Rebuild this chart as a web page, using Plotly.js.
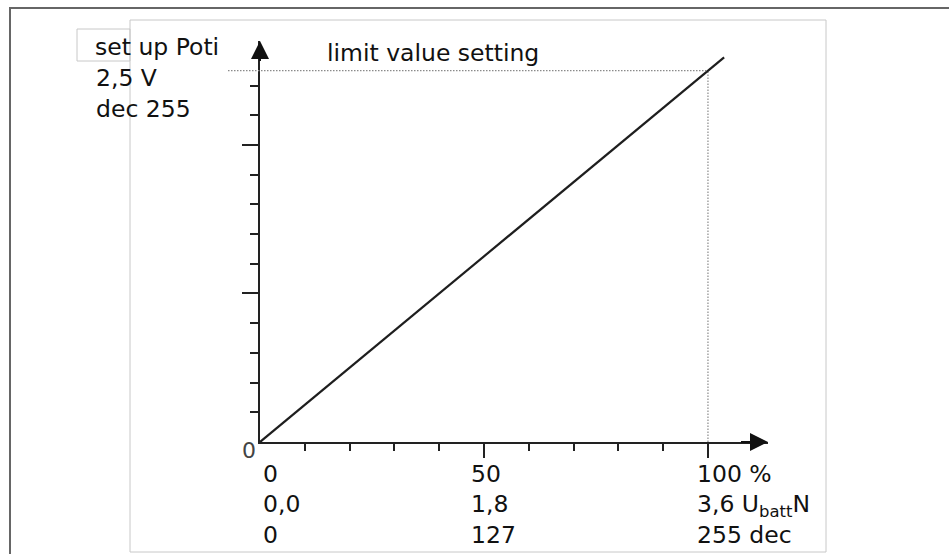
<!DOCTYPE html>
<html>
<head>
<meta charset="utf-8">
<script src="https://cdn.plot.ly/plotly-3.0.1.min.js"></script>
<style>html,body{margin:0;padding:0;background:#fff;}</style>
</head>
<body>
<div id="chart" style="width:949px;height:554px;"></div>
<script>
// ---------- data ----------
const lineX = [0, 103.6];          // limit value setting, %
const lineY = [0, 2.59];           // set up Poti voltage, V
const refX = 100;                  // 100 % point
const refY = 2.5;                  // 2,5 V
const tickPos = [0, 50, 100];
const pctLabels  = ['0', '50', '100 %'];
const voltLabels = ['0,0', '1,8', '3,6 U<sub>batt</sub>N'];
const decLabels  = ['0', '127', '255 dec'];
const yTitleLines = ['set up Poti', '2,5 V', 'dec 255'];
const chartTitle = 'limit value setting';
const originLabel = '0';
const xMajor = [50, 100];
const xMinor = [10, 20, 30, 40, 60, 70, 80, 90];
const yMajor = [1, 2];
const yMinor = [0.2, 0.4, 0.6, 0.8, 1.2, 1.4, 1.6, 1.8, 2.2, 2.4];

// ---------- geometry / style ----------
const W = 949, H = 554, L = 260, R = 181, T = 41, B = 112;
const xRange = [0, 113.4], yRange = [0, 2.7];
const pw = W - L - R, ph = H - T - B;
const px2x = px => (px - L) / pw;
const py2y = py => (H - B - py) / ph;
const FS = 23.5, FAM = 'DejaVu Sans', TXT = '#111';
const ASC = 0.928 * FS + 1;          // box top -> baseline

function label(text, left, baseline) {
  return {
    xref: 'paper', yref: 'paper', x: px2x(left), y: py2y(baseline - ASC),
    xanchor: 'left', yanchor: 'top', align: 'left', showarrow: false, text: text,
    font: {family: FAM, size: FS, color: TXT}
  };
}

const annotations = [];
// y-axis description
const yTitleLeft = [92.5, 93.5, 93.5];
const yTitleBase = [54.3, 84.5, 115.5];
yTitleLines.forEach((t, i) => annotations.push(label(t, yTitleLeft[i], yTitleBase[i])));
// title
annotations.push(label(chartTitle, 324.8, 60));
// column labels under x axis
const colShift = [0.5, -15, -13];
const rowBase = [480.5, 511, 541.5];
[pctLabels, voltLabels, decLabels].forEach((row, r) => {
  row.forEach((t, i) => {
    annotations.push({
      xref: 'x', yref: 'paper', x: tickPos[i], xshift: colShift[i],
      y: py2y(rowBase[r] - ASC), xanchor: 'left', yanchor: 'top', align: 'left',
      showarrow: false, text: t, font: {family: FAM, size: FS, color: TXT}
    });
  });
});
// origin label
annotations.push({
  xref: 'paper', yref: 'paper', x: px2x(249), y: py2y(450), xanchor: 'center', yanchor: 'middle',
  showarrow: false, text: originLabel, font: {family: FAM, size: 22, color: '#444'}
});
// axis arrowheads
annotations.push({xref: 'x', yref: 'y', x: xRange[1], y: 0, ax: -30, ay: 0, text: ' ',
  showarrow: true, arrowhead: 2, arrowsize: 1.8, arrowwidth: 2, arrowcolor: '#111'});
annotations.push({xref: 'x', yref: 'y', x: 0, y: yRange[1], ax: 0, ay: 30, text: ' ',
  showarrow: true, arrowhead: 2, arrowsize: 1.8, arrowwidth: 2, arrowcolor: '#111'});

const DOT = {color: '#8a8a8a', width: 1.2, dash: '1.5px,1.5px'};
const shapes = [
  // outer frame
  {type: 'rect', xref: 'paper', yref: 'paper', x0: px2x(10), x1: px2x(1000), y0: py2y(8), y1: py2y(620),
   line: {color: '#666', width: 2}},
  // inner frame
  {type: 'rect', xref: 'paper', yref: 'paper', x0: px2x(130), x1: px2x(826), y0: py2y(20), y1: py2y(552),
   line: {color: '#c8c8c8', width: 1}},
  // small label box
  {type: 'rect', xref: 'paper', yref: 'paper', x0: px2x(77), x1: px2x(130), y0: py2y(29), y1: py2y(61),
   line: {color: '#c8c8c8', width: 1}},
  // horizontal dotted reference line at 2,5 V
  {type: 'line', xref: 'paper', yref: 'y', x0: px2x(228),
   x1: (refX - xRange[0]) / (xRange[1] - xRange[0]), y0: refY, y1: refY, line: DOT}
];

const traces = [
  {x: [refX, refX], y: [0, refY], mode: 'lines', hoverinfo: 'skip', line: DOT},
  {x: lineX, y: lineY, mode: 'lines', hoverinfo: 'skip', line: {color: '#1e1e1e', width: 2.2}}
];

const axisCommon = {
  showline: true, linecolor: '#222', linewidth: 2, showgrid: false, zeroline: false,
  showticklabels: false, ticks: 'outside', tickmode: 'array', tickwidth: 2, tickcolor: '#222',
  fixedrange: true
};

const layout = {
  width: W, height: H, margin: {l: L, r: R, t: T, b: B, pad: 0},
  paper_bgcolor: '#fff', plot_bgcolor: '#fff', showlegend: false,
  xaxis: Object.assign({}, axisCommon, {range: xRange, tickvals: xMajor, ticklen: 14,
    minor: {tickmode: 'array', tickvals: xMinor, ticks: 'outside', ticklen: 7, tickwidth: 2, tickcolor: '#222'}}),
  yaxis: Object.assign({}, axisCommon, {range: yRange, tickvals: yMajor, ticklen: 16,
    minor: {tickmode: 'array', tickvals: yMinor, ticks: 'outside', ticklen: 8, tickwidth: 2, tickcolor: '#222'}}),
  shapes: shapes,
  annotations: annotations
};

Plotly.newPlot('chart', traces, layout, {displayModeBar: false, staticPlot: true});
</script>
</body>
</html>
